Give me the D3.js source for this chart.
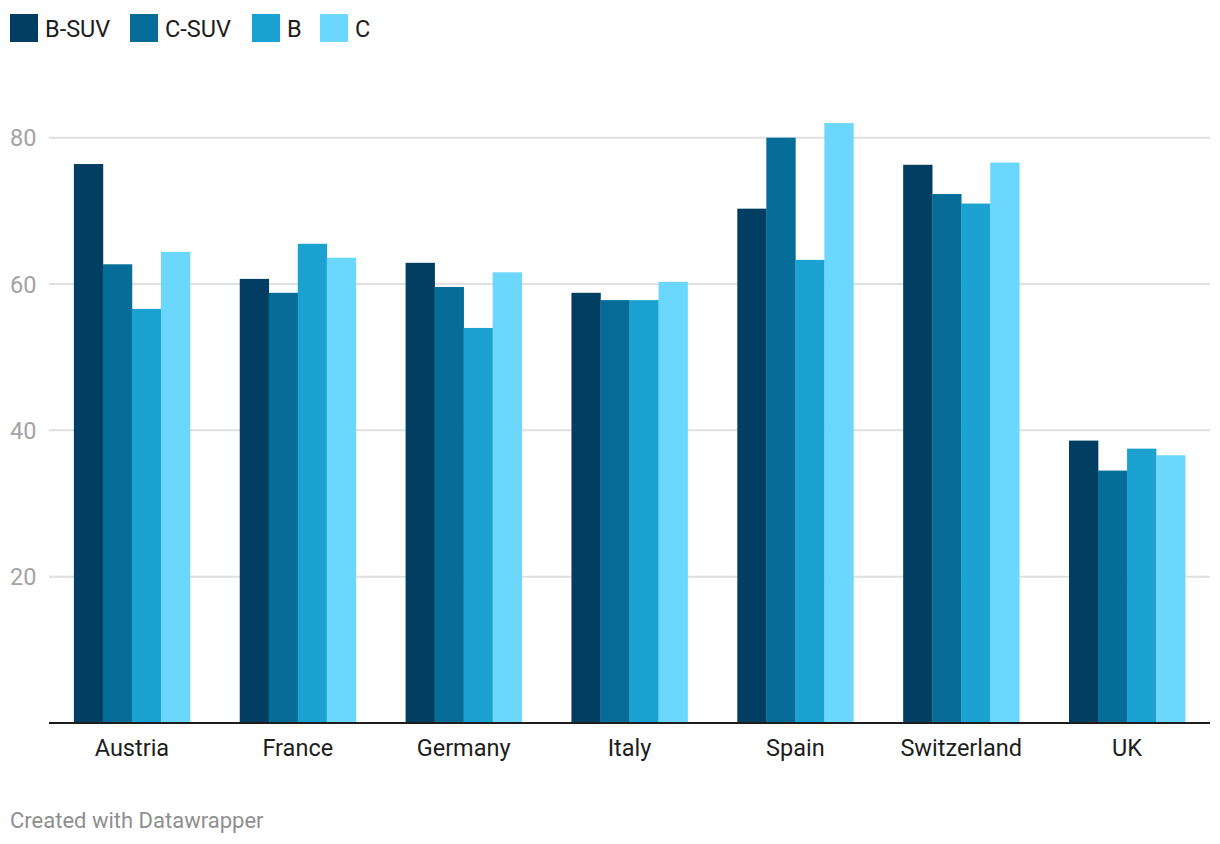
<!DOCTYPE html>
<html>
<head>
<meta charset="utf-8">
<script src="https://cdn.jsdelivr.net/npm/d3@7"></script>
<style>
  html, body { margin: 0; padding: 0; background: #fff; }
  svg { display: block; font-family: Roboto, "Noto Sans", sans-serif; }
</style>
</head>
<body>
<svg id="chart" width="1220" height="844"></svg>
<script>
const countries = ["Austria", "France", "Germany", "Italy", "Spain", "Switzerland", "UK"];
const seriesNames = ["B-SUV", "C-SUV", "B", "C"];
const bSuv = [76.4, 60.7, 62.9, 58.8, 70.3, 76.3, 38.6];
const cSuv = [62.7, 58.8, 59.6, 57.8, 80.0, 72.3, 34.5];
const bSeg = [56.6, 65.5, 54.0, 57.8, 63.3, 71.0, 37.5];
const cSeg = [64.4, 63.6, 61.6, 60.3, 82.0, 76.6, 36.6];
const yTicks = [20, 40, 60, 80];
const colors = ["#023e62", "#056d98", "#1ba2d0", "#6bd7fd"];

const seriesValues = [bSuv, cSuv, bSeg, cSeg];
const rows = countries.map((c, i) => ({ country: c, values: seriesNames.map((s, j) => ({ key: s, value: seriesValues[j][i] })) }));

const svg = d3.select("#chart");
const plotLeft = 49, plotRight = 1210, plotTop = 137.7, plotBottom = 723;

const y = d3.scaleLinear().domain([0, 80]).range([plotBottom, plotTop]);
const x0 = d3.scaleBand().domain(countries).range([plotLeft, plotRight]).paddingInner(0.3).paddingOuter(0.15);
const x1 = d3.scaleBand().domain(seriesNames).range([0, x0.bandwidth()]).padding(0);
const color = d3.scaleOrdinal().domain(seriesNames).range(colors);

// gridlines
const grid = svg.append("g").attr("class", "grid");
grid.selectAll("line").data(yTicks).join("line")
  .attr("x1", plotLeft).attr("x2", plotRight)
  .attr("y1", d => y(d)).attr("y2", d => y(d))
  .attr("stroke", "#e0e0e0").attr("stroke-width", 2);

// y tick labels
svg.append("g").selectAll("text").data(yTicks).join("text")
  .attr("x", 10).attr("y", d => y(d) + 8.5)
  .attr("fill", "#a3a3a3").attr("font-size", 23.5)
  .text(d => d);

// bars
const groups = svg.append("g").selectAll("g").data(rows).join("g")
  .attr("transform", d => `translate(${x0(d.country)},0)`);
groups.selectAll("rect").data(d => d.values).join("rect")
  .attr("x", d => x1(d.key))
  .attr("width", x1.bandwidth() + 0.3)
  .attr("y", d => y(d.value))
  .attr("height", d => y(0) - y(d.value))
  .attr("fill", d => color(d.key));

// baseline
svg.append("line")
  .attr("x1", plotLeft).attr("x2", plotRight)
  .attr("y1", y(0)).attr("y2", y(0))
  .attr("stroke", "#1d1d1d").attr("stroke-width", 2);

// x axis labels
const xAxis = d3.axisBottom(x0).tickSize(0).tickPadding(0);
const xg = svg.append("g").attr("transform", `translate(0,${plotBottom})`).call(xAxis);
xg.select(".domain").remove();
xg.selectAll("text")
  .attr("y", 33).attr("dy", 0)
  .attr("fill", "#1d1d1d").attr("font-size", 23.5)
  .attr("font-family", "Roboto, sans-serif");

// legend
const legendX = [10, 130, 252, 320];
const lg = svg.append("g").selectAll("g").data(seriesNames).join("g")
  .attr("transform", (d, i) => `translate(${legendX[i]},14)`);
lg.append("rect").attr("width", 28).attr("height", 28).attr("fill", d => color(d));
lg.append("text").attr("x", 35).attr("y", 22.5)
  .attr("font-size", 23.5).attr("fill", "#1d1d1d").text(d => d);

// footer
svg.append("text").attr("x", 10).attr("y", 828)
  .attr("font-size", 22).attr("fill", "#8f8f8f")
  .text("Created with Datawrapper");
</script>
</body>
</html>
